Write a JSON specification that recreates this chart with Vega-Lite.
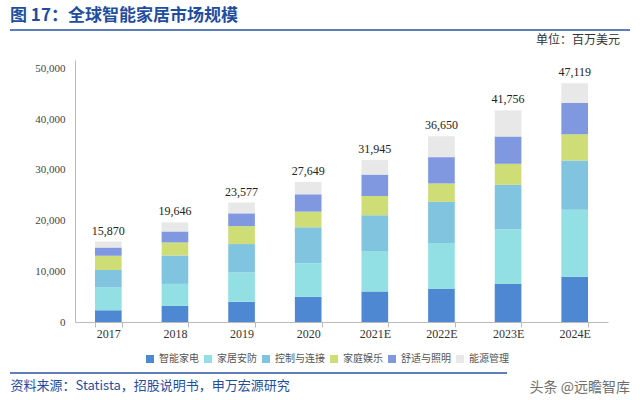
{
  "$schema": "https://vega.github.io/schema/vega-lite/v6.json",
  "width": 533,
  "height": 262,
  "autosize": {"type": "none"},
  "padding": {"left": 75, "top": 60, "right": 32, "bottom": 78},
  "background": "white",
  "title": {
    "text": "图 17：全球智能家居市场规模",
    "anchor": "start",
    "frame": "group",
    "font": "Noto Sans CJK SC",
    "fontSize": 17,
    "fontWeight": "bold",
    "color": "#1F4E9F",
    "dx": -65,
    "offset": 26,
    "dy": 22
  },
  "datasets": {
    "parts": [
      {"year": "2017", "cat": "智能家电", "idx": 1, "v": 2300},
      {"year": "2017", "cat": "家居安防", "idx": 2, "v": 4500},
      {"year": "2017", "cat": "控制与连接", "idx": 3, "v": 3450},
      {"year": "2017", "cat": "家庭娱乐", "idx": 4, "v": 2800},
      {"year": "2017", "cat": "舒适与照明", "idx": 5, "v": 1650},
      {"year": "2017", "cat": "能源管理", "idx": 6, "v": 1170},
      {"year": "2018", "cat": "智能家电", "idx": 1, "v": 3170},
      {"year": "2018", "cat": "家居安防", "idx": 2, "v": 4350},
      {"year": "2018", "cat": "控制与连接", "idx": 3, "v": 5600},
      {"year": "2018", "cat": "家庭娱乐", "idx": 4, "v": 2580},
      {"year": "2018", "cat": "舒适与照明", "idx": 5, "v": 2170},
      {"year": "2018", "cat": "能源管理", "idx": 6, "v": 1776},
      {"year": "2019", "cat": "智能家电", "idx": 1, "v": 4000},
      {"year": "2019", "cat": "家居安防", "idx": 2, "v": 5780},
      {"year": "2019", "cat": "控制与连接", "idx": 3, "v": 5600},
      {"year": "2019", "cat": "家庭娱乐", "idx": 4, "v": 3550},
      {"year": "2019", "cat": "舒适与照明", "idx": 5, "v": 2510},
      {"year": "2019", "cat": "能源管理", "idx": 6, "v": 2137},
      {"year": "2020", "cat": "智能家电", "idx": 1, "v": 4980},
      {"year": "2020", "cat": "家居安防", "idx": 2, "v": 6640},
      {"year": "2020", "cat": "控制与连接", "idx": 3, "v": 7060},
      {"year": "2020", "cat": "家庭娱乐", "idx": 4, "v": 3100},
      {"year": "2020", "cat": "舒适与照明", "idx": 5, "v": 3420},
      {"year": "2020", "cat": "能源管理", "idx": 6, "v": 2449},
      {"year": "2021E", "cat": "智能家电", "idx": 1, "v": 6030},
      {"year": "2021E", "cat": "家居安防", "idx": 2, "v": 7960},
      {"year": "2021E", "cat": "控制与连接", "idx": 3, "v": 7060},
      {"year": "2021E", "cat": "家庭娱乐", "idx": 4, "v": 3810},
      {"year": "2021E", "cat": "舒适与照明", "idx": 5, "v": 4230},
      {"year": "2021E", "cat": "能源管理", "idx": 6, "v": 2855},
      {"year": "2022E", "cat": "智能家电", "idx": 1, "v": 6520},
      {"year": "2022E", "cat": "家居安防", "idx": 2, "v": 9090},
      {"year": "2022E", "cat": "控制与连接", "idx": 3, "v": 8100},
      {"year": "2022E", "cat": "家庭娱乐", "idx": 4, "v": 3620},
      {"year": "2022E", "cat": "舒适与照明", "idx": 5, "v": 5200},
      {"year": "2022E", "cat": "能源管理", "idx": 6, "v": 4120},
      {"year": "2023E", "cat": "智能家电", "idx": 1, "v": 7510},
      {"year": "2023E", "cat": "家居安防", "idx": 2, "v": 10790},
      {"year": "2023E", "cat": "控制与连接", "idx": 3, "v": 8770},
      {"year": "2023E", "cat": "家庭娱乐", "idx": 4, "v": 4150},
      {"year": "2023E", "cat": "舒适与照明", "idx": 5, "v": 5390},
      {"year": "2023E", "cat": "能源管理", "idx": 6, "v": 5146},
      {"year": "2024E", "cat": "智能家电", "idx": 1, "v": 8950},
      {"year": "2024E", "cat": "家居安防", "idx": 2, "v": 13180},
      {"year": "2024E", "cat": "控制与连接", "idx": 3, "v": 9740},
      {"year": "2024E", "cat": "家庭娱乐", "idx": 4, "v": 5200},
      {"year": "2024E", "cat": "舒适与照明", "idx": 5, "v": 6200},
      {"year": "2024E", "cat": "能源管理", "idx": 6, "v": 3849}
    ],
    "totals": [
      {"year": "2017", "total": 15870},
      {"year": "2018", "total": 19646},
      {"year": "2019", "total": 23577},
      {"year": "2020", "total": 27649},
      {"year": "2021E", "total": 31945},
      {"year": "2022E", "total": 36650},
      {"year": "2023E", "total": 41756},
      {"year": "2024E", "total": 47119}
    ]
  },
  "layer": [
    {
      "data": {"name": "parts"},
      "mark": {"type": "bar"},
      "encoding": {
        "x": {
          "field": "year",
          "type": "ordinal",
          "scale": {"paddingInner": 0.6, "paddingOuter": 0.3},
          "axis": {
            "labelAngle": 0,
            "labelFont": "Liberation Serif",
            "labelFontSize": 12,
            "labelColor": "#333333",
            "domainColor": "#BBBBBB",
            "tickColor": "#BBBBBB",
            "tickBand": "extent",
            "tickSize": 5,
            "labelPadding": 1,
            "title": "资料来源：Statista，招股说明书，申万宏源研究",
            "titleFont": "Noto Sans CJK SC",
            "titleFontSize": 13,
            "titleFontWeight": "normal",
            "titleColor": "#1F4E9F",
            "titleAnchor": "start",
            "titleAlign": "left",
            "titleBaseline": "middle",
            "titleX": -65,
            "titleY": 63
          }
        },
        "y": {
          "field": "v",
          "type": "quantitative",
          "aggregate": "sum",
          "stack": "zero",
          "scale": {"domain": [0, 51700], "nice": false},
          "axis": {
            "values": [0, 10000, 20000, 30000, 40000, 50000],
            "format": ",d",
            "grid": false,
            "ticks": false,
            "labelFont": "Liberation Serif",
            "labelFontSize": 11,
            "labelColor": "#444444",
            "labelPadding": 10,
            "domainColor": "#BBBBBB",
            "title": null
          }
        },
        "color": {
          "field": "cat",
          "type": "nominal",
          "scale": {
            "domain": ["智能家电", "家居安防", "控制与连接", "家庭娱乐", "舒适与照明", "能源管理"],
            "range": ["#4F88D2", "#92DFE4", "#80C4E0", "#CEDD76", "#8098E0", "#E8E8E8"]
          },
          "legend": {
            "title": null,
            "orient": "none",
            "legendX": 70,
            "legendY": 294,
            "direction": "horizontal",
            "symbolType": "square",
            "symbolSize": 64,
            "symbolStrokeWidth": 0,
            "labelFont": "Noto Sans CJK SC",
            "labelFontSize": 10,
            "labelColor": "#555555",
            "labelOffset": 4,
            "columnPadding": 4
          }
        },
        "order": {"field": "idx", "type": "quantitative", "sort": "ascending"}
      }
    },
    {
      "data": {"name": "totals"},
      "mark": {"type": "text", "baseline": "bottom", "dy": -4, "font": "Liberation Serif", "fontSize": 12, "color": "#222222"},
      "encoding": {
        "x": {"field": "year", "type": "ordinal"},
        "y": {"field": "total", "type": "quantitative"},
        "text": {"field": "total", "type": "quantitative", "format": ",d"}
      }
    },
    {
      "data": {"values": [{"label": "单位：百万美元"}]},
      "mark": {"type": "text", "align": "right", "baseline": "middle", "font": "Noto Sans CJK SC", "fontSize": 12, "color": "#333333"},
      "encoding": {
        "x": {"value": 545},
        "y": {"value": -20},
        "text": {"field": "label"}
      }
    },
    {
      "data": {"values": [{"label": "头条 @远瞻智库"}]},
      "mark": {"type": "text", "align": "right", "baseline": "middle", "font": "Noto Sans CJK SC", "fontSize": 14, "color": "#555555", "opacity": 0.85},
      "encoding": {
        "x": {"value": 555},
        "y": {"value": 328},
        "text": {"field": "label"}
      }
    },
    {
      "data": {"values": [{"p": "top"}]},
      "mark": {"type": "rule", "color": "#2952A3", "strokeWidth": 1.5},
      "encoding": {
        "x": {"value": -65},
        "x2": {"value": 555},
        "y": {"value": -30}
      }
    },
    {
      "data": {"values": [{"p": "bottom"}]},
      "mark": {"type": "rule", "color": "#2952A3", "strokeWidth": 1.5},
      "encoding": {
        "x": {"value": -65},
        "x2": {"value": 432},
        "y": {"value": 313}
      }
    }
  ],
  "config": {"view": {"stroke": null}}
}
